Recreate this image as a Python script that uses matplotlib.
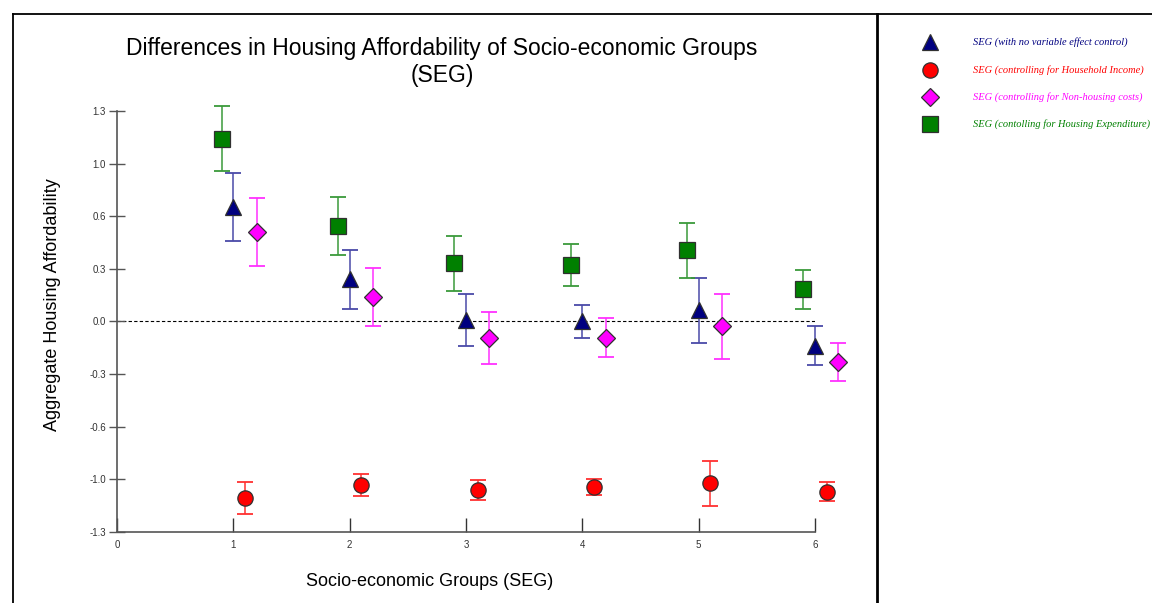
import numpy as np
import matplotlib.pyplot as plt
from matplotlib.lines import Line2D

# Socio-economic group estimates with their error bars
seg = np.array([1, 2, 3, 4, 5, 6])

no_control = [0.71, 0.26, 0.01, 0.00, 0.07, -0.15]
no_control_err = [0.21, 0.18, 0.16, 0.10, 0.20, 0.12]

income = [-1.09, -1.01, -1.04, -1.02, -1.00, -1.05]
income_err = [0.10, 0.07, 0.06, 0.05, 0.14, 0.06]

non_housing = [0.55, 0.15, -0.10, -0.10, -0.03, -0.25]
non_housing_err = [0.21, 0.18, 0.16, 0.12, 0.20, 0.12]

housing_exp = [1.13, 0.59, 0.36, 0.35, 0.44, 0.20]
housing_exp_err = [0.20, 0.18, 0.17, 0.13, 0.17, 0.12]

labels = [
    "SEG (with no variable effect control)",
    "SEG (controlling for Household Income)",
    "SEG (controlling for Non-housing costs)",
    "SEG (contolling for Housing Expenditure)",
]

y_ticks = np.linspace(-1.3, 1.3, 9)
y_tick_labels = ["-1.3", "-1.0", "-0.6", "-0.3", "0.0", "0.3", "0.6", "1.0", "1.3"]

plt.rcParams["font.family"] = ["Liberation Sans", "DejaVu Sans"]

fig = plt.figure(figsize=(11.52, 6.03), dpi=100)
ax = fig.add_axes([117 / 1152, 1 - 532 / 603, 698 / 1152, 421 / 603])

series = [
    (no_control, no_control_err, 0.0, "^", "#000080", "#4a4aa8", 12),
    (income, income_err, 0.1, "o", "#ff0000", "#ff3030", 11),
    (non_housing, non_housing_err, 0.2, "D", "#ff00ff", "#ff30ff", 9),
    (housing_exp, housing_exp_err, -0.1, "s", "#008000", "#3a9a3a", 11),
]

for vals, err, off, mk, col, ecol, ms in series:
    eb = ax.errorbar(seg + off, vals, yerr=err, fmt="none", ecolor=ecol,
                     elinewidth=1.1, capsize=5.5, capthick=1.3, zorder=2)
    for art in eb.lines[1] + eb.lines[2]:
        art.set_clip_on(False)
    ax.plot(seg + off, vals, linestyle="none", marker=mk, markersize=ms,
            markerfacecolor=col, markeredgecolor="#303030",
            markeredgewidth=0.9, zorder=3, clip_on=False)

# zero reference line
ax.plot([0, 6], [0, 0], color="black", linestyle=(0, (3, 2)), linewidth=0.8,
        zorder=1)

ax.set_xlim(0, 6)
ax.set_ylim(-1.3, 1.3)
ax.set_xticks(range(0, 7))
ax.set_yticks(y_ticks)
ax.set_yticklabels(y_tick_labels)

for side in ["top", "right"]:
    ax.spines[side].set_visible(False)
for side in ["left", "bottom"]:
    ax.spines[side].set_color("#555555")
    ax.spines[side].set_linewidth(1.2)

ax.tick_params(axis="y", direction="inout", length=12, width=1.0,
               color="#555555", labelsize=7, labelcolor="#333333", pad=2)
ax.tick_params(axis="x", direction="in", length=10, width=1.0,
               color="#333333", labelsize=7, labelcolor="#333333", pad=6)

ax.set_xlabel("Socio-economic Groups (SEG)", fontsize=13)
ax.xaxis.set_label_coords((430 - 117) / 698, -(581 - 532) / 421)
ax.xaxis.label.set_va("center")
ax.set_ylabel("Aggregate Housing Affordability", fontsize=13)
ax.yaxis.set_label_coords(-(117 - 53) / 698, (532 - 305) / 421)
ax.yaxis.label.set_va("center")

fig.text(442 / 1152, 1 - 62 / 603,
         "Differences in Housing Affordability of Socio-economic Groups\n(SEG)",
         ha="center", va="center", fontsize=16.5, linespacing=1.2)

# legend panel
leg_y = [42, 70, 97, 124]
for (vals, err, off, mk, col, ecol, ms), lab, yy in zip(series, labels, leg_y):
    fy = 1 - yy / 603
    fig.add_artist(Line2D([930 / 1152], [fy], marker=mk, markersize=ms,
                          markerfacecolor=col, markeredgecolor="#303030",
                          markeredgewidth=0.9, linestyle="none"))
    fig.text(973 / 1152, fy, lab, ha="left", va="center", fontsize=7.5,
             style="italic", color=col,
             family=["Liberation Serif", "DejaVu Serif"])

# outer frame
frame = dict(color="black", linewidth=1.3)
fig.add_artist(Line2D([13 / 1152, 1.0], [1 - 14 / 603, 1 - 14 / 603], **frame))
fig.add_artist(Line2D([13 / 1152, 13 / 1152], [0, 1 - 14 / 603], **frame))
fig.add_artist(Line2D([877 / 1152, 877 / 1152], [0, 1 - 14 / 603],
                      color="black", linewidth=2))

fig.savefig("out.png", dpi=100)
